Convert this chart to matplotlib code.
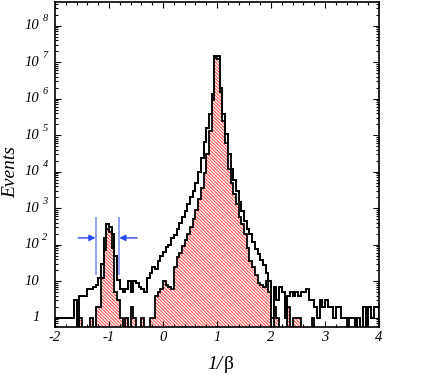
"""Inverse-velocity (1/beta) distribution: all events vs. selected events."""

import numpy as np
import matplotlib

matplotlib.use("Agg")
import matplotlib.pyplot as plt
from matplotlib.ticker import LogLocator, MultipleLocator, NullFormatter

# 120 bins of width 0.05 between -2 and 4
x_lo, x_hi, n_bins = -2.0, 4.0, 120

all_counts = [
    1, 1, 1, 1, 1, 1, 1, 3, 0, 4,
    4, 4, 6, 6, 7, 8, 12, 30, 150, 370,
    310, 190, 50, 11, 6, 5, 6, 10, 5, 10,
    9, 7, 6, 5, 12, 17, 24, 21, 35, 50,
    62, 85, 100, 150, 180, 260, 380, 560, 850, 1300,
    2000, 3000, 5000, 1.0e4, 2.4e4, 6.3e4, 1.6e5, 3.8e5, 1.3e6, 1.5e7,
    1.45e7, 1.9e6, 3.8e5, 1.1e5, 3.0e4, 1.2e4, 6000, 3000, 1500, 850,
    450, 270, 190, 116, 75, 55, 38, 27, 17, 10,
    1, 7, 3, 7, 5, 1, 4, 5, 4, 5,
    4, 5, 5, 6, 3, 3, 2, 1, 3, 2,
    3, 2, 2, 1, 2, 2, 1, 1, 1, 1,
    1, 0, 1, 0, 2, 0, 2, 1, 2, 2,
]

sel_counts = [
    0, 0, 0, 0, 0, 0, 0, 0, 0, 1,
    0, 0, 0, 1, 0, 2, 2, 12, 70, 270,
    215, 80, 5, 3, 1, 0, 1, 0, 2, 1,
    0, 0, 1, 0, 0, 1, 1, 4, 5, 6,
    10, 8, 7, 6, 25, 45, 60, 90, 130, 200,
    300, 500, 900, 1800, 3500, 9300, 3.0e4, 1.3e5, 8.9e5, 1.3e7,
    1.25e7, 1.5e6, 2.5e5, 6.0e4, 1.2e4, 5000, 2500, 1300, 560, 370,
    200, 80, 36, 25, 15, 9, 8, 7, 10, 5,
    0, 2, 1, 0, 0, 0, 2, 0, 1, 1,
    1, 0, 0, 0, 0, 1, 0, 0, 0, 0,
    0, 0, 0, 0, 0, 0, 0, 0, 1, 0,
    0, 0, 0, 0, 0, 0, 0, 0, 0, 0,
]

x_ticks = [-2, -1, 0, 1, 2, 3, 4]
x_tick_labels = ["-2", "-1", "0", "1", "2", "3", "4"]
y_decades = [0, 1, 2, 3, 4, 5, 6, 7, 8]

# cut window around 1/beta = -1
window = [-1.25, -0.81]
window_span = [15, 560]
arrow_level = 152
arrow_tails = [-1.57, -0.48]

plt.rcParams["font.family"] = ["Liberation Serif", "DejaVu Serif"]
plt.rcParams["hatch.linewidth"] = 0.7
plt.rcParams["axes.unicode_minus"] = False

edges = np.linspace(x_lo, x_hi, n_bins + 1)
floor = 1e-2  # empty bins drop below the axis
all_v = np.clip(np.asarray(all_counts, dtype=float), floor, None)
sel_v = np.clip(np.asarray(sel_counts, dtype=float), floor, None)

fig = plt.figure(figsize=(4.3, 3.75), dpi=100)
ax = fig.add_axes([55 / 430, 48 / 375, 324 / 430, 325.3 / 375])

ax.stairs(sel_v, edges, baseline=floor, fill=True, facecolor="none",
          edgecolor="#ff4040", linewidth=0, hatch="\\" * 10)
ax.stairs(sel_v, edges, baseline=floor, color="black", linewidth=1.3)
ax.stairs(all_v, edges, baseline=floor, color="black", linewidth=1.4)

ax.vlines(window, window_span[0], window_span[1], colors="#8090ff", linewidth=1.2)
for tip, tail in zip(window, arrow_tails):
    ax.annotate("", xy=(tip, arrow_level), xytext=(tail, arrow_level),
                arrowprops=dict(arrowstyle="-|>", color="#2848ff", lw=1.0,
                                mutation_scale=9, shrinkA=0, shrinkB=0))

ax.set_yscale("log")
ax.set_xlim(x_lo, x_hi)
ax.set_ylim(0.55, 4.5e8)

ax.set_xticks(x_ticks)
ax.set_xticklabels(x_tick_labels, fontstyle="italic", fontsize=10.5)
ax.xaxis.set_minor_locator(MultipleLocator(0.2))
ax.yaxis.set_major_locator(LogLocator(base=10, numticks=20))
ax.yaxis.set_minor_locator(LogLocator(base=10, subs=np.arange(2, 10), numticks=20))
ax.yaxis.set_major_formatter(NullFormatter())
ax.yaxis.set_minor_formatter(NullFormatter())
ax.tick_params(which="both", direction="in", top=True, right=True, width=0.8)
ax.tick_params(which="major", length=4.5, pad=3)
ax.tick_params(which="minor", length=2.2)
for s in ax.spines.values():
    s.set_linewidth(1.2)

ytrans = ax.get_yaxis_transform()
lab_x = (39.5 - 55) / 324
exp_x = (42.5 - 55) / 324
for d in y_decades:
    v = 10.0 ** d
    base = "1" if d == 0 else "10"
    ax.text(lab_x, v, base, transform=ytrans, ha="right", va="center",
            fontsize=10.5, fontstyle="italic")
    if d >= 2:
        ax.annotate(str(d), xy=(exp_x, v), xycoords=ytrans, xytext=(0, 5),
                    textcoords="offset points", ha="left", va="center",
                    fontsize=7.5, fontstyle="italic")

fig.text(11 / 430, 1 - 172 / 375, "Events", rotation=90, ha="center",
         va="center", fontsize=14, fontstyle="italic")
fig.text(222 / 430, 1 - 369 / 375, "1/", ha="right", va="baseline",
         fontsize=14, fontstyle="italic")
fig.text(224 / 430, 1 - 369 / 375, "β", ha="left", va="baseline", fontsize=14)

fig.savefig("out.png", dpi=100)
